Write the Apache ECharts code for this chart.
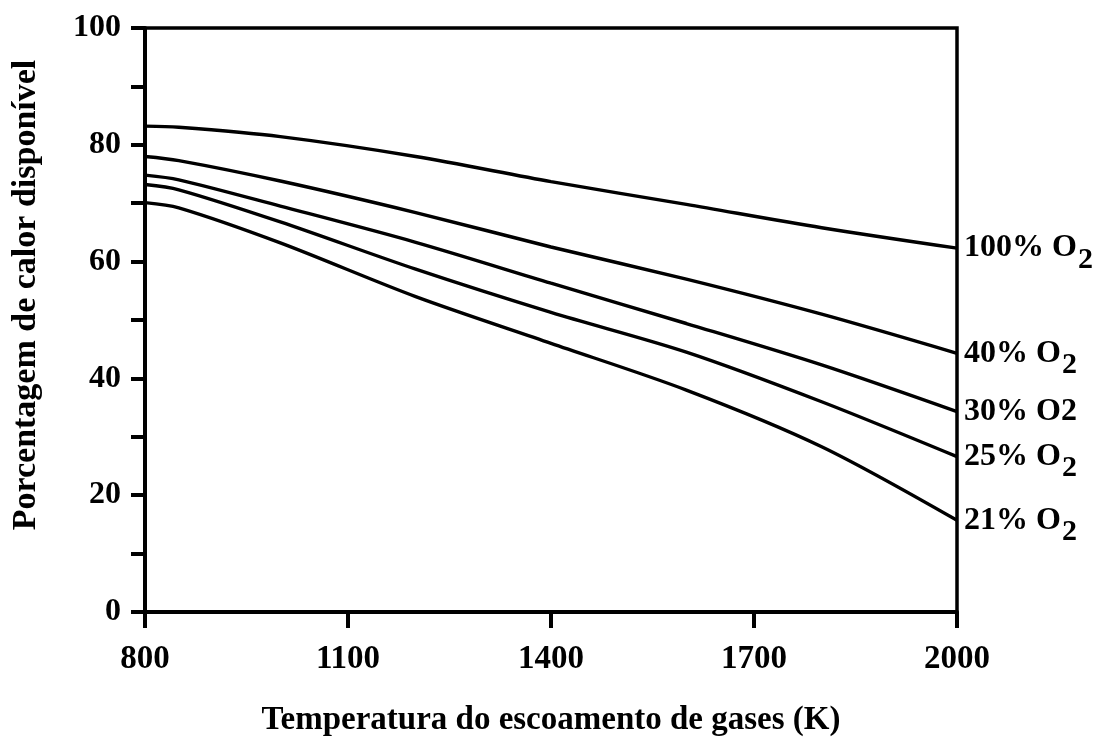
<!DOCTYPE html>
<html>
<head>
<meta charset="utf-8">
<script src="https://cdn.jsdelivr.net/npm/echarts@6/dist/echarts.min.js"></script>
<style>
  html, body { margin: 0; padding: 0; background: #fff; }
  #chart { width: 1101px; height: 749px; }
</style>
</head>
<body>
<div id="chart"></div>
<script>
// Flue gas temperature (K)
const temperatures = [800, 850, 1000, 1200, 1400, 1600, 1800, 2000];

// Available heat (%) for each oxygen concentration in the oxidiser
const o2_100 = [83.2, 83.0, 81.4, 78.0, 73.7, 69.8, 65.8, 62.3];
const o2_40  = [78.0, 77.3, 73.8, 68.4, 62.5, 57.0, 51.0, 44.3];
const o2_30  = [74.8, 74.0, 69.5, 63.3, 56.3, 49.4, 42.3, 34.3];
const o2_25  = [73.2, 72.3, 66.8, 58.7, 51.3, 44.5, 36.0, 26.6];
const o2_21  = [70.1, 69.2, 63.2, 54.0, 46.0, 38.0, 28.3, 15.7];

// Curve labels: [prefix, subscript]
const seriesLabels = [
  ['100% O', '2'],
  ['40% O', '2'],
  ['30% O2', ''],
  ['25% O', '2'],
  ['21% O', '2']
];
const seriesValues = [o2_100, o2_40, o2_30, o2_25, o2_21];

const xTicks = [800, 1100, 1400, 1700, 2000];
const yTickLabels = [0, 20, 40, 60, 80, 100];

const FONT = '"Liberation Serif", "Times New Roman", serif';

const chart = echarts.init(document.getElementById('chart'), null, { renderer: 'canvas' });

const series = seriesValues.map((vals, i) => ({
  type: 'line',
  name: seriesLabels[i].join(''),
  data: temperatures.map((t, j) => [t, vals[j]]),
  smooth: 0.3,
  showSymbol: false,
  symbol: 'none',
  lineStyle: { color: '#000', width: 3.4 },
  endLabel: {
    show: true,
    distance: 7,
    formatter: () => seriesLabels[i][1]
      ? '{a|' + seriesLabels[i][0] + '}{s|' + seriesLabels[i][1] + '}'
      : '{a|' + seriesLabels[i][0] + '}',
    rich: {
      a: { fontFamily: FONT, fontWeight: 'bold', fontSize: 32, color: '#000', verticalAlign: 'top', lineHeight: 32 },
      s: { fontFamily: FONT, fontWeight: 'bold', fontSize: 30, color: '#000', verticalAlign: 'top', lineHeight: 30, padding: [13, 0, 0, 1] }
    }
  },
  emphasis: { disabled: true }
}));

chart.setOption({
  animation: false,
  backgroundColor: '#fff',
  grid: {
    left: 145, right: 144, top: 28, bottom: 137,
    show: true, borderColor: '#000', borderWidth: 3.5, backgroundColor: 'transparent'
  },
  xAxis: {
    type: 'value',
    min: 800, max: 2000, interval: 300,
    name: 'Temperatura do escoamento de gases (K)',
    nameLocation: 'middle',
    nameGap: 92,
    nameTextStyle: { fontFamily: FONT, fontWeight: 'bold', fontSize: 33, color: '#000' },
    axisLine: { show: true, lineStyle: { color: '#000', width: 4 } },
    axisTick: { show: true, inside: false, length: 16, lineStyle: { color: '#000', width: 4 } },
    axisLabel: {
      show: true, margin: 31, color: '#000',
      fontFamily: FONT, fontWeight: 'bold', fontSize: 33,
      formatter: v => xTicks.indexOf(v) >= 0 ? String(v) : ''
    },
    splitLine: { show: false }
  },
  yAxis: {
    type: 'value',
    min: 0, max: 100, interval: 10,
    name: 'Porcentagem de calor disponível',
    nameLocation: 'middle',
    nameGap: 102,
    nameRotate: 90,
    nameTextStyle: {
      fontFamily: FONT, fontWeight: 'bold', fontSize: 34, color: '#000',
      padding: [0, 0, 0, 50]
    },
    axisLine: { show: true, lineStyle: { color: '#000', width: 4 } },
    axisTick: { show: true, inside: false, length: 14, lineStyle: { color: '#000', width: 4 } },
    axisLabel: {
      show: true, margin: 24, color: '#000',
      fontFamily: FONT, fontWeight: 'bold', fontSize: 32,
      formatter: v => yTickLabels.indexOf(v) >= 0 ? String(v) : ''
    },
    splitLine: { show: false }
  },
  series: series
});
</script>
</body>
</html>
